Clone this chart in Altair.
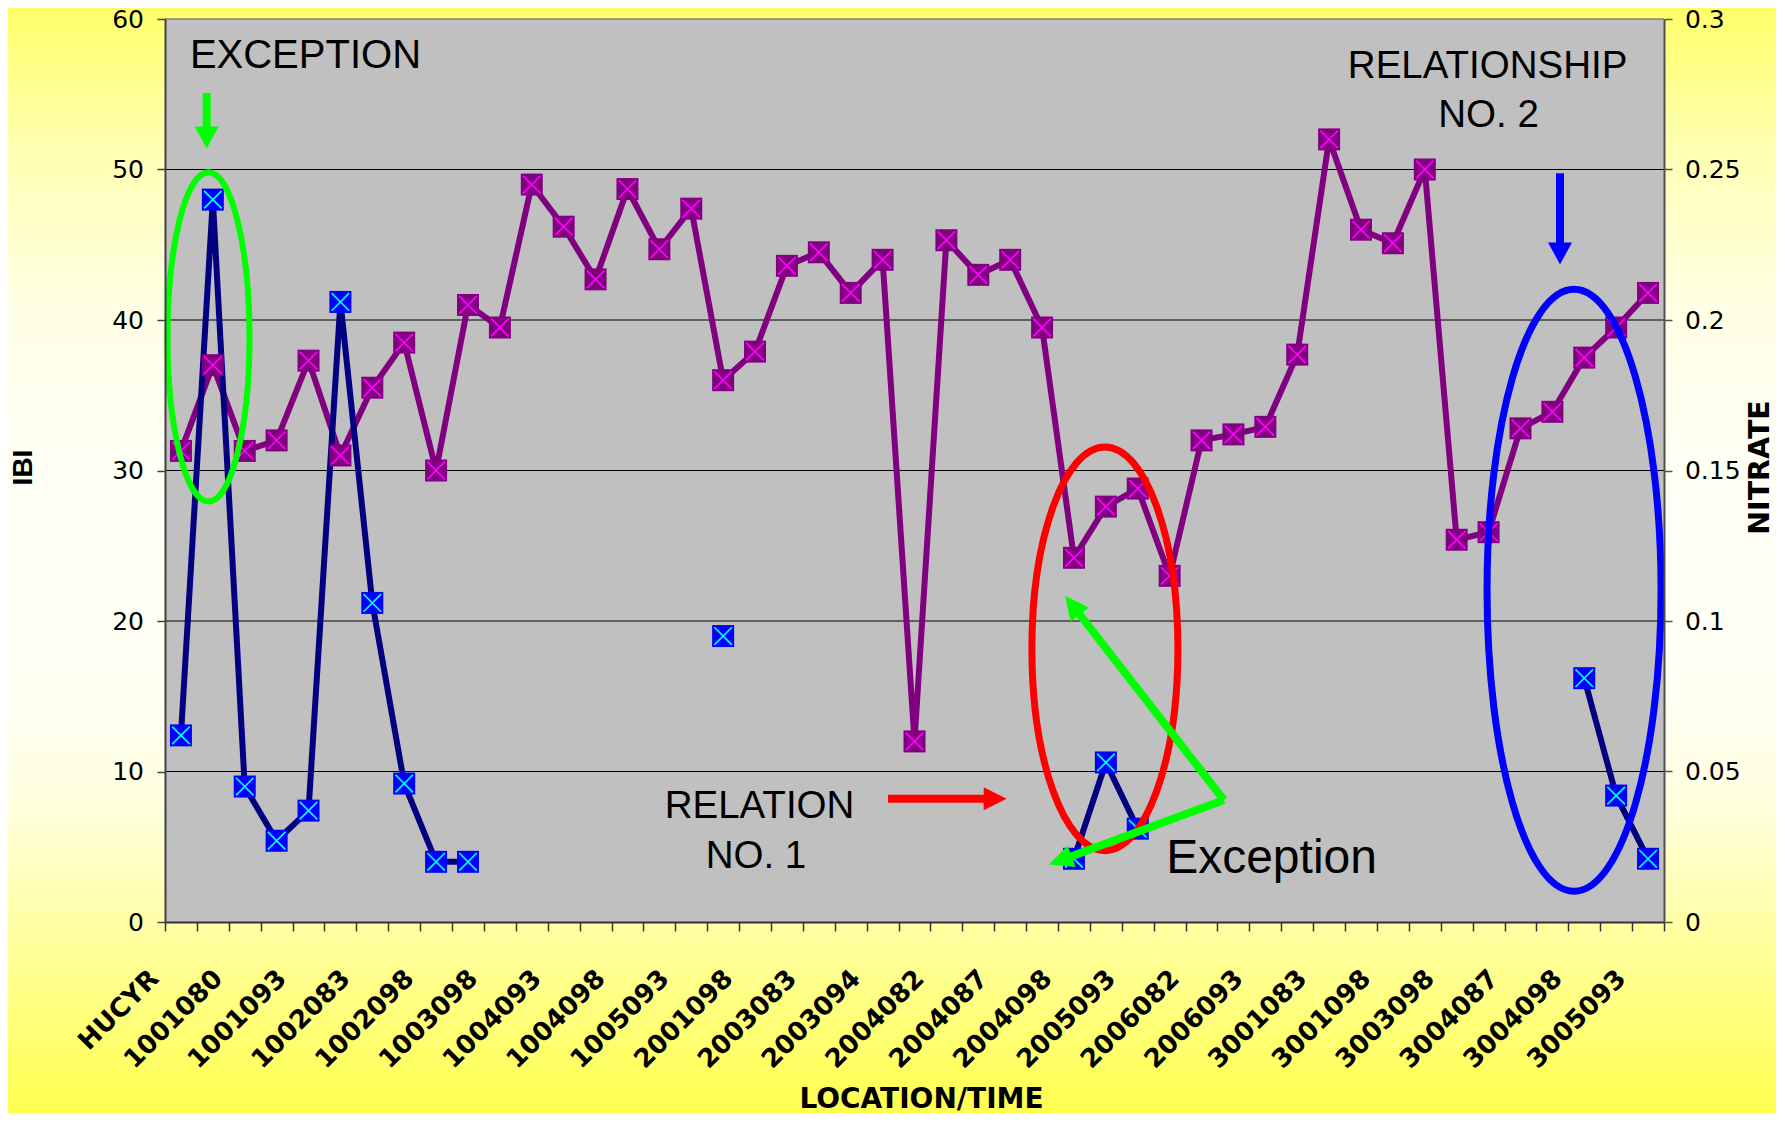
import math
import altair as alt
import pandas as pd

# ---------------- data ----------------
LABELS = ["HUCYR", "1001080", "1001093", "1002083", "1002098", "1003098",
          "1004093", "1004098", "1005093", "2001098", "2003083", "2003094",
          "2004082", "2004087", "2004098", "2005093", "2006082", "2006093",
          "3001083", "3001098", "3003098", "3004087", "3004098", "3005093"]

IBI = [31.3, 37.0, 31.3, 32.0, 37.3, 31.0, 35.5, 38.5, 30.0, 41.0,
       39.5, 49.0, 46.2, 42.7, 48.7, 44.7, 47.4, 36.0, 37.9, 43.6,
       44.5, 41.8, 44.0, 12.0, 45.3, 43.0, 44.0, 39.5, 24.2, 27.6,
       28.8, 23.0, 32.0, 32.4, 32.9, 37.7, 52.0, 46.0, 45.1, 50.0,
       25.4, 25.9, 32.8, 33.9, 37.5, 39.5, 41.8]

NITRATE = [0.062, 0.240, 0.045, 0.027, 0.037, 0.206, 0.106, 0.046, 0.020, 0.020,
           None, None, None, None, None, None, None, 0.095, None, None,
           None, None, None, None, None, None, None, None, 0.021, 0.053,
           0.031, None, None, None, None, None, None, None, None, None,
           None, None, None, None, 0.081, 0.042, 0.021]

IBI_TICKS = [0, 10, 20, 30, 40, 50, 60]
NITRATE_TICKS = [0, 0.05, 0.1, 0.15, 0.2, 0.25, 0.3]

# annotation texts (anchor in category / IBI units)
TXT_LEFT = pd.DataFrame({
    "t": ["EXCEPTION", "Exception"],
    "x": [0.78, 31.39],
    "y": [56.74, 3.23],
    "fs": [40, 48],
})
TXT_CENTER = pd.DataFrame({
    "t": ["RELATIONSHIP", "NO. 2", "RELATION", "NO. 1"],
    "x": [41.47, 41.50, 18.64, 18.53],
    "y": [56.08, 52.85, 6.90, 3.60],
    "fs": [38.5, 38.5, 38.5, 38.5],
})
# ellipses: centre (category, IBI), radii (category units, IBI units)
ELLIPSES = [
    dict(x=1.364, y=38.88, rx=1.286, ry=10.94, col="#00FF00", sw=6),
    dict(x=29.47, y=18.15, rx=2.289, ry=13.41, col="#FF0000", sw=7),
    dict(x=44.18, y=22.04, rx=2.728, ry=20.00, col="#0000FF", sw=7),
]
# arrows: tip and tail (category, IBI)
ARROWS = [
    dict(x=1.307, y=51.40, tx=1.307, ty=55.09, col="#00FF00", hl=22, hw=24),
    dict(x=43.74, y=43.69, tx=43.74, ty=49.75, col="#0000FF", hl=22, hw=24),
    dict(x=26.39, y=8.19, tx=22.67, ty=8.19, col="#FF0000", hl=23, hw=23),
    dict(x=28.22, y=21.68, tx=33.20, ty=8.11, col="#00FF00", hl=24, hw=23),
    dict(x=27.72, y=3.82, tx=33.20, ty=8.11, col="#00FF00", hl=24, hw=23),
]

# ---------------- layout ----------------
W, H = 1499, 903
NCAT = len(IBI)
PAD = {"left": 157, "top": 11, "right": 112, "bottom": 191}
PXX = W / NCAT
PXY = H / 60.0

df = pd.DataFrame({"idx": range(NCAT), "ibi": IBI, "nitrate": NITRATE})
df["x"] = df["idx"] + 0.5
seg, s, prev = [], 0, False
for v in NITRATE:
    cur = v is not None
    if cur and not prev:
        s += 1
    seg.append(s if cur else None)
    prev = cur
df["seg"] = seg
dn = df.dropna(subset=["nitrate"]).copy()

xscale = alt.Scale(domain=[0, NCAT], nice=False, zero=False)
yscale = alt.Scale(domain=[0, 60], nice=False, zero=False)
nscale = alt.Scale(domain=[0, 0.3], nice=False, zero=False)

lab_js = "[" + ",".join("'" + l + "'" for l in LABELS) + "]"
xaxis = alt.Axis(
    values=list(range(NCAT + 1)), grid=False,
    labelExpr=f"(datum.value % 2 == 0 && datum.value < {NCAT}) ? {lab_js}[datum.value / 2] : ''",
    labelAngle=315, labelAlign="right", labelBaseline="middle",
    labelOffset=-11, labelPadding=43, labelFont="DejaVu Sans",
    labelFontWeight="bold", labelFontSize=26, labelColor="black",
    labelOverlap=False, labelFlush=False, labelLimit=400,
    tickSize=9, tickColor="#333333", tickWidth=1.5,
    domainColor="#333333", domainWidth=2,
    title="LOCATION/TIME", titleFont="DejaVu Sans", titleFontSize=28,
    titleFontWeight="bold", titleColor="black", titleX=756, titleY=185,
    titleAlign="center", titleBaseline="alphabetic", zindex=1)

yaxis_left = alt.Axis(
    values=IBI_TICKS, grid=False, labelFont="DejaVu Sans", labelFontSize=25,
    labelColor="black", labelPadding=13.5, tickSize=8, tickColor="#404040",
    tickWidth=1.5, domainColor="#404040", domainWidth=2,
    title="IBI", titleFont="Liberation Sans", titleFontSize=28,
    titleFontWeight="bold", titleColor="black", titleAngle=270,
    titleX=-141.5, titleY=448, titleAlign="center", titleBaseline="middle",
    orient="left", zindex=1)

yaxis_right = alt.Axis(
    values=NITRATE_TICKS, format="~g", grid=False, labelFont="DejaVu Sans",
    labelFontSize=25, labelColor="black", labelPadding=12.4, tickSize=8,
    tickColor="#505050", tickWidth=1.5, domainColor="#505050", domainWidth=2,
    title="NITRATE", titleFont="DejaVu Sans", titleFontSize=28.5,
    titleFontWeight="bold", titleColor="black", titleAngle=270,
    titleX=95, titleY=448, titleAlign="center", titleBaseline="middle",
    orient="right", zindex=1)


def X(field="x"):
    return alt.X(f"{field}:Q", scale=xscale, axis=xaxis)


def Yi(field="y"):
    return alt.Y(f"{field}:Q", scale=yscale, axis=None)


one = pd.DataFrame({"d": [0]})

# background gradient over the whole picture
grad = alt.LinearGradient(
    gradient="linear", x1=0, y1=0, x2=0, y2=1,
    stops=[alt.GradientStop(color="#FFFF6A", offset=0),
           alt.GradientStop(color="#FFFFB4", offset=0.13),
           alt.GradientStop(color="#FFFFE6", offset=0.27),
           alt.GradientStop(color="#FFFFF8", offset=0.45),
           alt.GradientStop(color="#FFFFF2", offset=0.63),
           alt.GradientStop(color="#FFFFE0", offset=0.72),
           alt.GradientStop(color="#FFFFA0", offset=0.84),
           alt.GradientStop(color="#FFFF50", offset=1)])
bg = alt.Chart(one).mark_rect(fill=grad).encode(
    x=alt.value(-PAD["left"]), x2=alt.value(W + PAD["right"]),
    y=alt.value(-PAD["top"]), y2=alt.value(H + PAD["bottom"]))

plotbg = alt.Chart(one).mark_rect(fill="#C0C0C0").encode(
    x=alt.value(0), x2=alt.value(W), y=alt.value(0), y2=alt.value(H))

grid = alt.Chart(pd.DataFrame({"g": IBI_TICKS[1:-1]})).mark_rule(
    color="black", strokeWidth=1).encode(
    y=alt.Y("g:Q", scale=yscale, axis=None), x=alt.value(0), x2=alt.value(W))
topline = alt.Chart(pd.DataFrame({"g": [60]})).mark_rule(
    color="#808080", strokeWidth=1.5).encode(
    y=alt.Y("g:Q", scale=yscale, axis=None), x=alt.value(0), x2=alt.value(W))

LW = 6
ibi_line = alt.Chart(df).mark_line(color="#800080", strokeWidth=LW).encode(
    x=X(), y=alt.Y("ibi:Q", scale=yscale, axis=yaxis_left))
nit_line = alt.Chart(dn).mark_line(color="#000080", strokeWidth=LW).encode(
    x=X(), y=alt.Y("nitrate:Q", scale=nscale, axis=yaxis_right),
    detail="seg:N")

XPATH = "M -0.8 -0.8 L 0.8 0.8 M -0.8 0.8 L 0.8 -0.8"
MS = 484
ibi_sq = alt.Chart(df).mark_point(shape="square", filled=True, size=MS,
                                  color="#800080", opacity=1).encode(
    x=X(), y=alt.Y("ibi:Q", scale=yscale, axis=None))
ibi_x = alt.Chart(df).mark_point(shape=XPATH, filled=False, size=MS,
                                 stroke="#FF00FF", strokeWidth=1.7, opacity=1).encode(
    x=X(), y=alt.Y("ibi:Q", scale=yscale, axis=None))
nit_sq = alt.Chart(dn).mark_point(shape="square", filled=True, size=MS,
                                  color="#0000FF", opacity=1).encode(
    x=X(), y=alt.Y("nitrate:Q", scale=nscale, axis=None))
nit_x = alt.Chart(dn).mark_point(shape=XPATH, filled=False, size=MS,
                                 stroke="#00FFFF", strokeWidth=1.7, opacity=1).encode(
    x=X(), y=alt.Y("nitrate:Q", scale=nscale, axis=None))


def ellipse_path(rx, ry):
    k = 0.5523
    return (f"M 0 {-ry:.2f} C {k*rx:.2f} {-ry:.2f} {rx:.2f} {-k*ry:.2f} {rx:.2f} 0 "
            f"C {rx:.2f} {k*ry:.2f} {k*rx:.2f} {ry:.2f} 0 {ry:.2f} "
            f"C {-k*rx:.2f} {ry:.2f} {-rx:.2f} {k*ry:.2f} {-rx:.2f} 0 "
            f"C {-rx:.2f} {-k*ry:.2f} {-k*rx:.2f} {-ry:.2f} 0 {-ry:.2f} Z")


def arrow_path(dx, dy, sw, hl, hw):
    L = math.hypot(dx, dy)
    ux, uy = -dx / L, -dy / L
    nx, ny = -uy, ux
    bx, by = -ux * hl, -uy * hl
    pts = [(dx + nx * sw / 2, dy + ny * sw / 2), (bx + nx * sw / 2, by + ny * sw / 2),
           (bx + nx * hw / 2, by + ny * hw / 2), (0, 0),
           (bx - nx * hw / 2, by - ny * hw / 2), (bx - nx * sw / 2, by - ny * sw / 2),
           (dx - nx * sw / 2, dy - ny * sw / 2)]
    return "M " + " L ".join(f"{x:.2f} {y:.2f}" for x, y in pts) + " Z"


ell_df = pd.DataFrame([dict(x=e["x"], y=e["y"], col=e["col"], sw=e["sw"],
                            path=ellipse_path(e["rx"] * PXX, e["ry"] * PXY))
                       for e in ELLIPSES])
arr_df = pd.DataFrame([dict(x=a["x"], y=a["y"], col=a["col"],
                            path=arrow_path((a["tx"] - a["x"]) * PXX,
                                            -(a["ty"] - a["y"]) * PXY,
                                            8, a["hl"], a["hw"]))
                       for a in ARROWS])

ell = alt.Chart(ell_df).mark_point(filled=False, opacity=1).encode(
    x=X(), y=Yi(), shape=alt.Shape("path:N", scale=None),
    stroke=alt.Stroke("col:N", scale=None),
    strokeWidth=alt.StrokeWidth("sw:Q", scale=None), size=alt.value(4))
arr = alt.Chart(arr_df).mark_point(filled=True, opacity=1, strokeWidth=0).encode(
    x=X(), y=Yi(), shape=alt.Shape("path:N", scale=None),
    fill=alt.Fill("col:N", scale=None), size=alt.value(4))

txt_l = alt.Chart(TXT_LEFT).mark_text(font="Liberation Sans", align="left",
                                      baseline="alphabetic", color="black").encode(
    x=X(), y=Yi(), text="t:N", size=alt.Size("fs:Q", scale=None))
txt_c = alt.Chart(TXT_CENTER).mark_text(font="Liberation Sans", align="center",
                                        baseline="alphabetic", color="black").encode(
    x=X(), y=Yi(), text="t:N", size=alt.Size("fs:Q", scale=None))

chart = alt.layer(
    bg, plotbg, grid, topline, ibi_line, nit_line, ibi_sq, ibi_x, nit_sq, nit_x,
    ell, arr, txt_l, txt_c
).resolve_scale(y="independent").properties(
    width=W, height=H, padding=PAD,
    autosize=alt.AutoSizeParams(type="none"),
    background="#FFFFF2",
).configure_view(stroke=None)

chart.save("out.html", embed_options={"renderer": "svg", "actions": False})
